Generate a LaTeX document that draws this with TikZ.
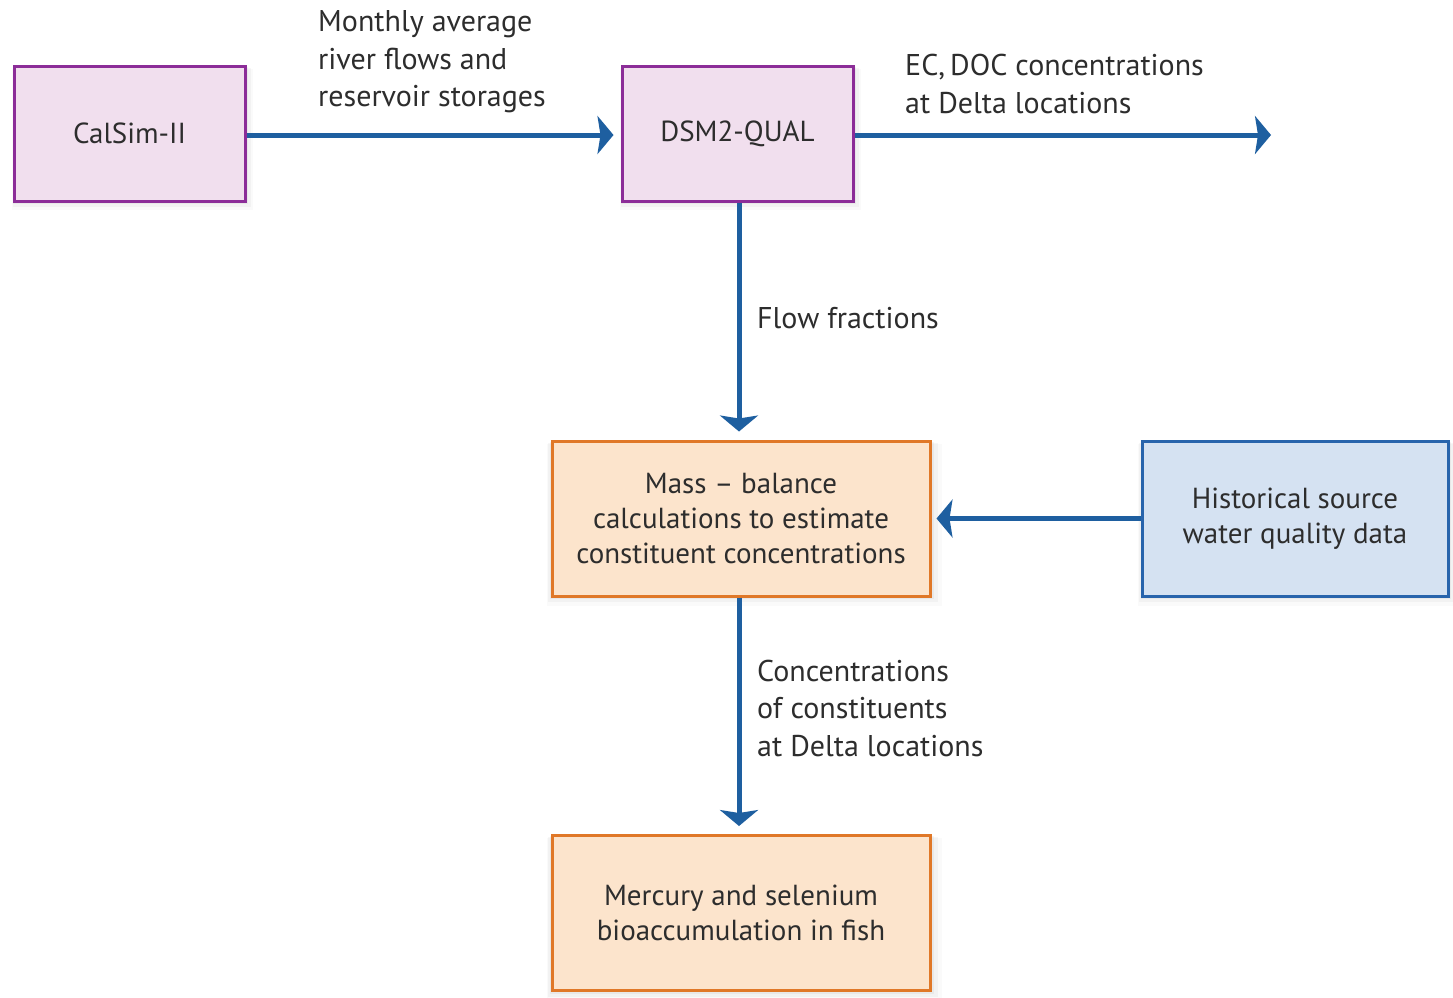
\documentclass[tikz,border=0pt]{standalone}
\usepackage{fontspec}
\setmainfont{PT Sans}
\usetikzlibrary{arrows.meta,shadows}
\definecolor{purpb}{RGB}{140,45,152}
\definecolor{purpf}{RGB}{241,223,238}
\definecolor{orgb}{RGB}{224,120,40}
\definecolor{orgf}{RGB}{252,228,204}
\definecolor{blub}{RGB}{40,100,172}
\definecolor{bluf}{RGB}{213,226,242}
\definecolor{arrb}{RGB}{30,95,160}
\definecolor{txt}{RGB}{45,45,45}
\tikzset{
  softshadow/.style={
    general shadow={shadow xshift=1pt,shadow yshift=-2pt,fill=black,opacity=0.04,shadow scale=1.015},
    general shadow={shadow xshift=2pt,shadow yshift=-4pt,fill=black,opacity=0.03,shadow scale=1.03},
    general shadow={shadow xshift=3pt,shadow yshift=-6pt,fill=black,opacity=0.02,shadow scale=1.045}},
  boxbase/.style={draw,line width=3pt,softshadow,text=txt,align=center,inner sep=0pt,
    font=\fontsize{29}{35}\selectfont},
  purplebox/.style={boxbase,draw=purpb,fill=purpf,minimum width=231pt,minimum height=135pt},
  orangebox/.style={boxbase,draw=orgb,fill=orgf,minimum width=378pt,minimum height=155pt},
  bluebox/.style={boxbase,draw=blub,fill=bluf,minimum width=306pt,minimum height=155pt},
  flow/.style={draw=arrb,line width=5pt,-{Stealth[length=16pt,width=38pt,inset=3pt]}},
  lbl/.style={text=txt,align=left,inner sep=0pt,anchor=west,font=\fontsize{30}{37.5}\selectfont}
}
\begin{document}
\begin{tikzpicture}[x=1pt,y=-1pt]
\useasboundingbox[fill=white] (0,0) rectangle (1453,997);
\node[purplebox] (cal) at (129.5,133.5) {CalSim-II};
\node[purplebox] (dsm) at (737.5,133.5) {DSM2-QUAL};
\node[orangebox] (mass) at (741,518.5) {Mass -- balance\\calculations to estimate\\constituent concentrations};
\node[bluebox] (hist) at (1295,518.5) {Historical source\\water quality data};
\node[orangebox] (merc) at (741,913) {Mercury and selenium\\bioaccumulation in fish};
\coordinate (outend) at (1271,135);

\draw[flow,shorten >=7pt] ([yshift=-1.5pt]cal.east) -- ([yshift=-1.5pt]dsm.west);
\draw[flow] ([yshift=-1.5pt]dsm.east) -- (outend);
\draw[flow,shorten >=8pt] ([xshift=1.5pt]dsm.south) -- ([xshift=1.5pt]dsm.south |- mass.north);
\draw[flow,shorten >=5pt] (hist.west) -- (mass.east);
\draw[flow,shorten >=8pt] ([xshift=-2pt]mass.south) -- ([xshift=-2pt]merc.north);

\node[lbl] (l1) at (318,62) {Monthly average\\river flows and\\reservoir storages};
\node[lbl] (l2) at (905,84) {EC,\,DOC concentrations\\at Delta locations};
\node[lbl] (l3) at (757,318) {Flow fractions};
\node[lbl] (l4) at (757,708) {Concentrations\\of constituents\\at Delta locations};
\end{tikzpicture}
\end{document}
